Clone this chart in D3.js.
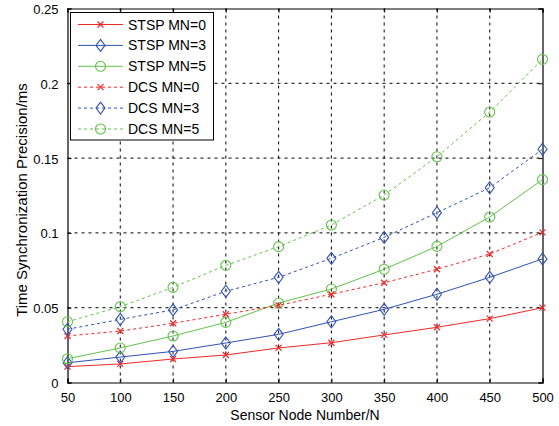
<!DOCTYPE html>
<html>
<head>
<meta charset="utf-8">
<script src="https://cdn.jsdelivr.net/npm/d3@7"></script>
<style>
  html, body { margin: 0; padding: 0; background: #fff; }
  svg { display: block; font-family: "Liberation Sans", Arial, sans-serif; }
</style>
</head>
<body>
<svg id="chart" width="559" height="426"></svg>
<script>
// Sensor node counts (x axis)
const nodes = [50, 100, 150, 200, 250, 300, 350, 400, 450, 500];

// Time synchronization precision (ms) per scheme
const stspMN0 = [0.0106, 0.0124, 0.0157, 0.0184, 0.0231, 0.0266, 0.0318, 0.0369, 0.0427, 0.0500];
const stspMN3 = [0.0132, 0.0170, 0.0208, 0.0264, 0.0322, 0.0406, 0.0489, 0.0590, 0.0703, 0.0826];
const stspMN5 = [0.0159, 0.0231, 0.0311, 0.0402, 0.0531, 0.0625, 0.0757, 0.0910, 0.1106, 0.1356];
const dcsMN0  = [0.0311, 0.0344, 0.0396, 0.0456, 0.0516, 0.0590, 0.0667, 0.0757, 0.0859, 0.1004];
const dcsMN3  = [0.0356, 0.0422, 0.0485, 0.0610, 0.0703, 0.0830, 0.0970, 0.1135, 0.1302, 0.1559];
const dcsMN5  = [0.0406, 0.0507, 0.0636, 0.0783, 0.0908, 0.1053, 0.1253, 0.1509, 0.1808, 0.2160];

const xTicks = [50, 100, 150, 200, 250, 300, 350, 400, 450, 500];
const yTicks = [0, 0.05, 0.1, 0.15, 0.2, 0.25];
const yTickLabels = ["0", "0.05", "0.1", "0.15", "0.2", "0.25"];

const seriesNames = ["STSP MN=0", "STSP MN=3", "STSP MN=5", "DCS MN=0", "DCS MN=3", "DCS MN=5"];
const seriesValues = [stspMN0, stspMN3, stspMN5, dcsMN0, dcsMN3, dcsMN5];

const RED = "#f02828", BLUE = "#2f52b4", GREEN = "#62c24a";
const styles = [
  { color: RED,   dash: null,  marker: "x" },
  { color: BLUE,  dash: null,  marker: "diamond" },
  { color: GREEN, dash: null,  marker: "circle" },
  { color: RED,   dash: "3,3", marker: "x" },
  { color: BLUE,  dash: "3,3", marker: "diamond" },
  { color: GREEN, dash: "3,3", marker: "circle" }
];

const svg = d3.select("#chart");
const L = 67.5, R = 542.5, T = 8.5, B = 382.5;

const x = d3.scaleLinear().domain([50, 500]).range([L, R]);
const y = d3.scaleLinear().domain([0, 0.25]).range([B, T]);

// grid lines
const grid = svg.append("g");
grid.selectAll("line.v").data(xTicks.slice(1, -1)).join("line")
  .attr("x1", d => x(d)).attr("x2", d => x(d))
  .attr("y1", T).attr("y2", B)
  .attr("stroke", "#000").attr("stroke-width", 1).attr("stroke-dasharray", "3,4");
grid.selectAll("line.h").data(yTicks.slice(1, -1)).join("line")
  .attr("x1", L).attr("x2", R)
  .attr("y1", d => y(d)).attr("y2", d => y(d))
  .attr("stroke", "#000").attr("stroke-width", 1).attr("stroke-dasharray", "3,4");

// axes
const fontSize = 13;
svg.append("g").attr("transform", `translate(0,${B})`)
  .call(d3.axisBottom(x).tickValues(xTicks).tickSize(-4).tickPadding(10).tickFormat(d3.format("d")));
const yAxis = svg.append("g").attr("transform", `translate(${L},0)`)
  .call(d3.axisLeft(y).tickValues(yTicks).tickSize(-4).tickPadding(9).tickFormat((d, i) => yTickLabels[i]));
yAxis.selectAll(".tick text").attr("dy", "0.38em");
svg.append("g").attr("transform", `translate(0,${T})`)
  .call(d3.axisTop(x).tickValues(xTicks).tickSize(-4).tickFormat(""));
svg.append("g").attr("transform", `translate(${R},0)`)
  .call(d3.axisRight(y).tickValues(yTicks).tickSize(-4).tickFormat(""));
svg.selectAll(".domain").attr("stroke", "#000").attr("stroke-width", 1.2);
svg.selectAll(".tick line").attr("stroke", "#000");
svg.selectAll(".tick text").attr("fill", "#000").attr("font-size", fontSize)
  .attr("font-family", "Liberation Sans, Arial, sans-serif");

// axis titles
svg.append("text").attr("x", (L + R) / 2).attr("y", 419.5).attr("text-anchor", "middle")
  .attr("font-size", 14).text("Sensor Node Number/N");
svg.append("text").attr("transform", "translate(26.5,200) rotate(-90)")
  .attr("text-anchor", "middle").attr("font-size", 15).text("Time Synchronization Precision/ms");

// marker drawing
function drawMarker(g, type, color) {
  if (type === "x") {
    g.append("path").attr("d", "M-3,-3L3,3M-3,3L3,-3")
      .attr("stroke", color).attr("stroke-width", 1.2).attr("fill", "none");
  } else if (type === "diamond") {
    g.append("path").attr("d", "M0,-6L4.5,0L0,6L-4.5,0Z")
      .attr("stroke", color).attr("stroke-width", 1.1).attr("fill", "none");
  } else {
    g.append("circle").attr("r", 5)
      .attr("stroke", color).attr("stroke-width", 1.1).attr("fill", "none");
  }
}

// series
const line = d3.line().x((d, i) => x(nodes[i])).y(d => y(d));
seriesValues.forEach((vals, s) => {
  const st = styles[s];
  const g = svg.append("g");
  g.append("path").datum(vals).attr("d", line)
    .attr("fill", "none").attr("stroke", st.color).attr("stroke-width", 1)
    .attr("stroke-dasharray", st.dash);
  vals.forEach((v, i) => {
    drawMarker(g.append("g").attr("transform", `translate(${x(nodes[i])},${y(v)})`), st.marker, st.color);
  });
});

// legend
const lg = svg.append("g");
lg.append("rect").attr("x", 70.5).attr("y", 12.5).attr("width", 143).attr("height", 127.5)
  .attr("fill", "#fff").attr("stroke", "#000").attr("stroke-width", 1);
seriesNames.forEach((name, s) => {
  const st = styles[s];
  const ry = 24.5 + s * 20.9;
  lg.append("line").attr("x1", 78).attr("x2", 123).attr("y1", ry).attr("y2", ry)
    .attr("stroke", st.color).attr("stroke-width", 1).attr("stroke-dasharray", st.dash);
  drawMarker(lg.append("g").attr("transform", `translate(100.5,${ry})`), st.marker, st.color);
  lg.append("text").attr("x", 128).attr("y", ry + 5).attr("font-size", 14).attr("fill", "#000").text(name);
});
</script>
</body>
</html>
